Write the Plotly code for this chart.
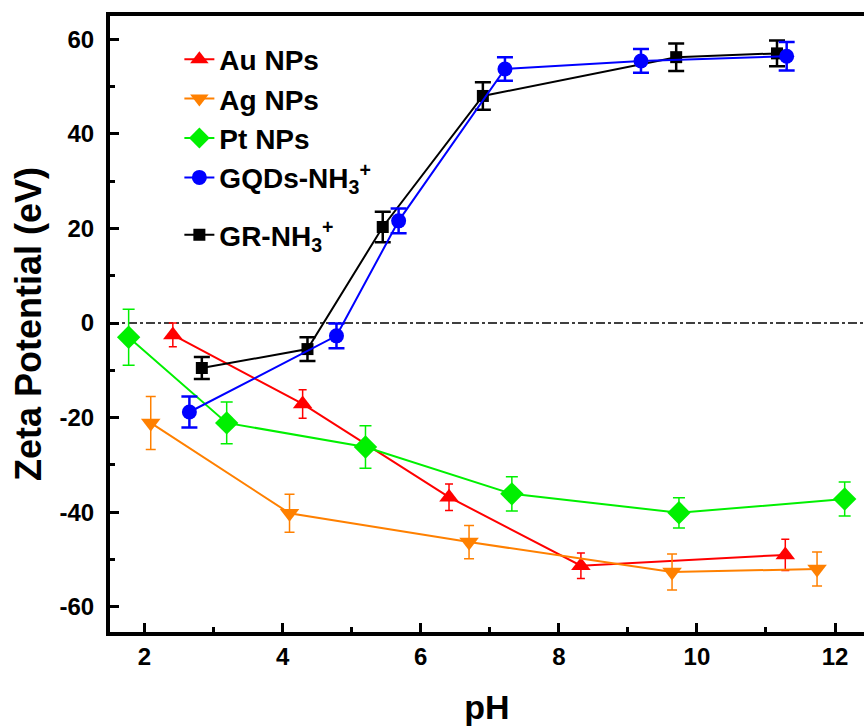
import plotly.graph_objects as go

# ---- data ----
au_x = [2.41, 4.29, 6.41, 8.32, 11.28]
au_y = [-2.5, -17.1, -36.8, -51.3, -49.0]
au_e = [2.5, 3.0, 2.8, 2.7, 3.3]

ag_x = [2.09, 4.10, 6.70, 9.64, 11.74]
ag_y = [-21.1, -40.2, -46.3, -52.6, -52.0]
ag_e = [5.6, 4.0, 3.5, 3.8, 3.6]

pt_x = [1.77, 3.19, 5.20, 7.32, 9.74, 12.14]
pt_y = [-3.0, -21.1, -26.2, -36.1, -40.1, -37.2]
pt_e = [5.9, 4.4, 4.5, 3.6, 3.2, 3.6]

gqd_x = [2.65, 4.78, 5.68, 7.22, 9.19, 11.30]
gqd_y = [-18.8, -2.7, 21.6, 53.7, 55.4, 56.4]
gqd_e = [3.3, 2.6, 2.6, 2.5, 2.5, 3.0]

gr_x = [2.83, 4.36, 5.45, 6.90, 9.70, 11.16]
gr_y = [-9.5, -5.5, 20.3, 48.0, 56.2, 57.0]
gr_e = [2.3, 2.5, 3.2, 2.9, 2.9, 2.7]

x_ticks = [2, 4, 6, 8, 10, 12]
y_ticks = [-60, -40, -20, 0, 20, 40, 60]

FONT = "Arial, Liberation Sans, sans-serif"

series = [
    # name, x, y, err, color, symbol, size, capwidth, errthick, rank, legend
    ("Au NPs", au_x, au_y, au_e, "#FF0000", "triangle-up", 17, 4, 1.5, 1, "legend"),
    ("Ag NPs", ag_x, ag_y, ag_e, "#FF8000", "triangle-down", 17, 5, 1.5, 2, "legend"),
    ("Pt NPs", pt_x, pt_y, pt_e, "#00F000", "diamond", 18, 6, 1.5, 3, "legend"),
    ("GR-NH<sub>3</sub><sup>+</sup>", gr_x, gr_y, gr_e, "#000000", "square", 12, 8, 2.5, 5, "legend2"),
    ("GQDs-NH<sub>3</sub><sup>+</sup>", gqd_x, gqd_y, gqd_e, "#0000FF", "circle", 15, 8, 2.5, 4, "legend"),
]

fig = go.Figure()
for name, xs, ys, es, col, sym, sz, cw, et, rank, leg in series:
    fig.add_trace(go.Scatter(
        x=xs, y=ys, name=name, mode="lines+markers",
        line=dict(color=col, width=2),
        marker=dict(symbol=sym, size=sz, color=col, line=dict(width=0)),
        error_y=dict(type="data", array=es, visible=True, color=col,
                     thickness=et, width=cw),
        legendrank=rank, legend=leg,
    ))

fig.add_shape(type="line", xref="paper", yref="y", x0=0, x1=1, y0=0, y1=0,
              line=dict(color="black", width=1.5, dash="dashdot"), layer="below")

legfont = dict(family=FONT, size=28, weight="bold", color="black")
fig.update_layout(
    width=864, height=726,
    margin=dict(l=110, r=0, t=16, b=94),
    plot_bgcolor="white", paper_bgcolor="white",
    font=dict(family=FONT, color="black"),
    showlegend=True,
    legend=dict(x=0.092, y=0.97, xanchor="left", yanchor="top",
                bgcolor="rgba(0,0,0,0)", tracegroupgap=0, font=legfont),
    legend2=dict(x=0.092, y=0.685, xanchor="left", yanchor="top",
                 bgcolor="rgba(0,0,0,0)", font=legfont),
    xaxis=dict(
        range=[1.5, 12.42], tickvals=x_ticks, ticktext=[str(v) for v in x_ticks],
        ticks="inside", ticklen=9, tickwidth=3, tickcolor="black",
        minor=dict(dtick=1, tick0=0, ticks="inside", ticklen=5, tickwidth=3, tickcolor="black"),
        showline=True, linewidth=4, linecolor="black", mirror=True,
        showgrid=False, zeroline=False,
        tickfont=dict(family=FONT, size=24, weight="bold"),
        title=dict(text="pH", font=dict(family=FONT, size=34, weight="bold"), standoff=28),
    ),
    yaxis=dict(
        range=[-65.3, 64.9], tickvals=y_ticks, ticktext=[str(v) for v in y_ticks],
        ticks="inside", ticklen=9, tickwidth=3, tickcolor="black",
        minor=dict(dtick=10, tick0=0, ticks="inside", ticklen=5, tickwidth=3, tickcolor="black"),
        showline=True, linewidth=4, linecolor="black",
        showgrid=False, zeroline=False, ticklabelstandoff=7,
        tickfont=dict(family=FONT, size=24, weight="bold"),
        title=dict(text="Zeta Potential (eV)", font=dict(family=FONT, size=36, weight="bold"), standoff=8),
    ),
)

fig.write_html("out.html")
